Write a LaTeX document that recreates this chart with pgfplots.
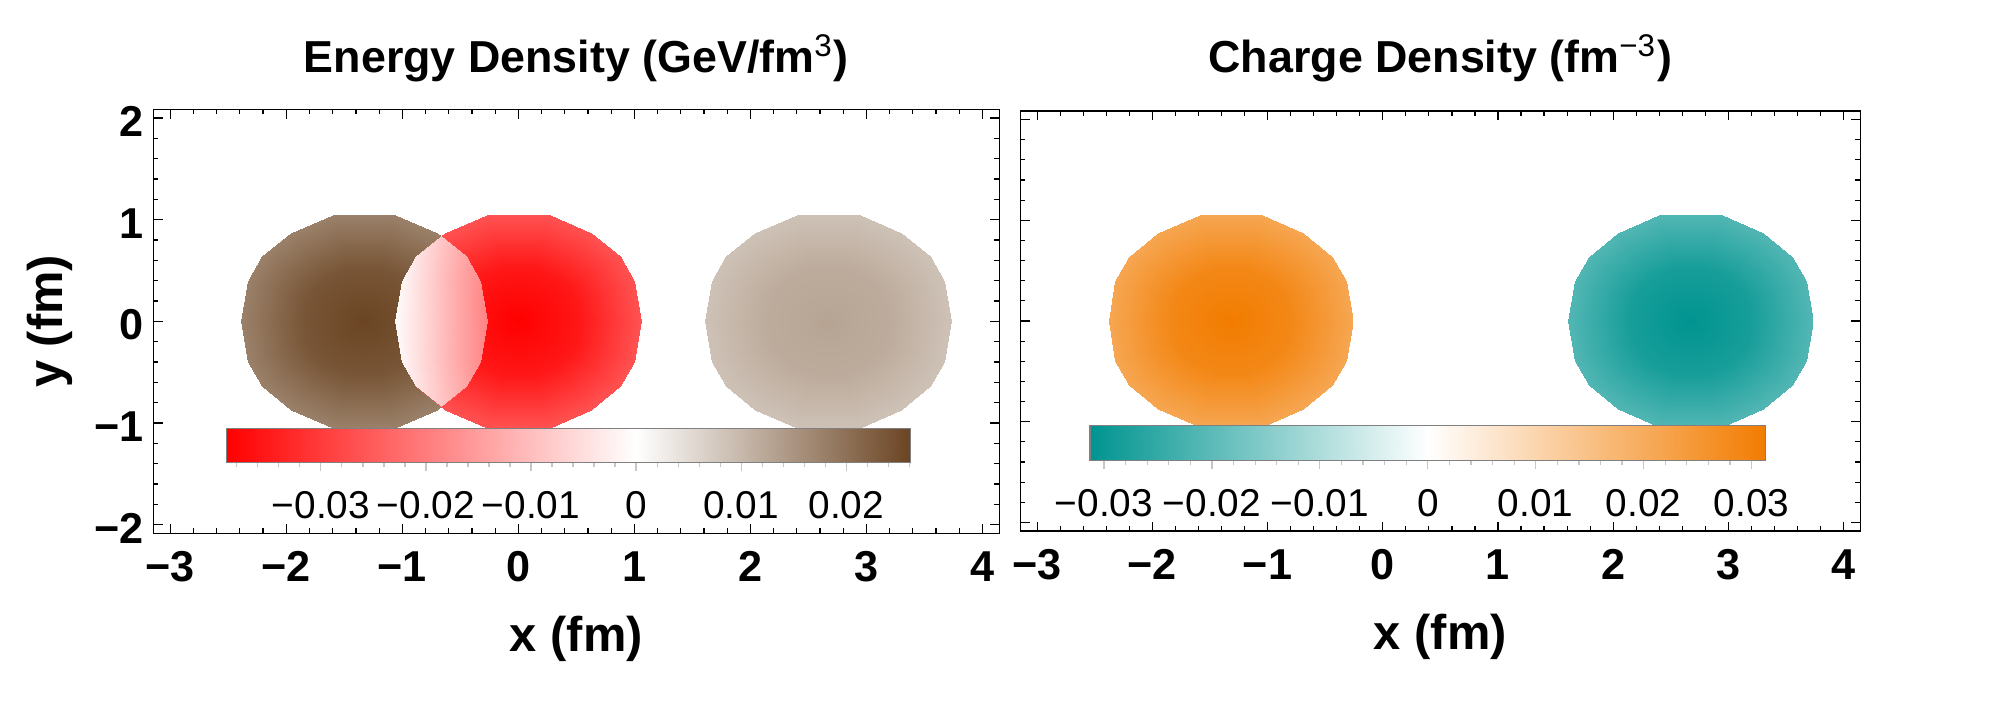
\documentclass[border=0pt]{standalone}
\usepackage{fontspec}
\setmainfont{Liberation Sans}
\usepackage{pgfplots}
\pgfplotsset{compat=1.18}

\newcommand\tickfont{\fontsize{10.8}{12}\selectfont\bfseries}
\newcommand\labfont{\fontsize{12.2}{14}\selectfont\bfseries}
\newcommand\titfont{\fontsize{11.2}{13}\selectfont\bfseries}
\newcommand\cbfont{\fontsize{9.7}{11}\selectfont}

\pgfplotsset{
  colormap={energy}{rgb255(0pt)=(255,0,0) rgb255(39pt)=(255,255,255) rgb255(65.1pt)=(107,69,35)},
  colormap={charge}{rgb255(0pt)=(0,148,144) rgb255(1pt)=(255,255,255) rgb255(2pt)=(242,124,0)},
  densframe/.style={
    scale only axis,
    axis line style={line width=0.3pt},
    every tick/.style={line width=0.3pt, black},
    major tick length=2.33pt, minor tick length=1.25pt,
    xmin=-3.146, xmax=4.145, ymin=-2.085, ymax=2.085,
    xtick={-3,...,4}, ytick={-2,...,2},
    minor x tick num=4, minor y tick num=4,
    xticklabels={−3,−2,−1,0,1,2,3,4},
    ticklabel style={font=\tickfont, inner sep=0pt},
    xticklabel style={anchor=north, yshift=-4.4pt},
    yticklabel style={anchor=east, xshift=-2.3pt, yshift=-0.9pt},
    xlabel={x (fm)},
    xlabel style={font=\labfont, at={(axis description cs:0.5,0)}, anchor=base, yshift=-29.6pt, inner sep=0pt},
    title style={font=\titfont, at={(axis description cs:0.5,1)}, anchor=base, inner sep=0pt},
  },
  % colour scale drawn as its own small axis
  cbar/.style={
    scale only axis, anchor=south west, axis on top,
    ymin=0, ymax=1, ytick=\empty,
    axis line style={draw=gray, line width=0.3pt},
    tick align=outside, xtick pos=left,
    major tick length=2.25pt, minor tick length=1.25pt,
    every tick/.style={line width=0.3pt, gray!45},
    scaled x ticks=false,
    xticklabel style={font=\cbfont, anchor=north, inner sep=0pt, yshift=-4.9pt, text=black},
  },
  disc/.style={surf, shader=interp, mesh/rows=3, mesh/cols=19, point meta=\thisrow{c}},
}

\begin{document}
\begin{tikzpicture}
\path[use as bounding box] (0,0) rectangle (500pt,179pt);

% ---------- energy density ----------
\begin{axis}[densframe,
  at={(38.33pt,45.68pt)}, anchor=south west,
  width=211.5pt, height=106pt,
  colormap name=energy,
  point meta min=-0.0390, point meta max=0.0261,
  yticklabels={−2,−1,0,1,2},
  ylabel={y (fm)},
  ylabel style={font=\labfont, at={([xshift=-22.6pt]axis description cs:0,0.5)}, anchor=base, inner sep=0pt},
  title={Energy Density (GeV/fm\textsuperscript{\mdseries 3})},
  title style={yshift=3.15pt},
]
% positive blob at x = -1.33
\addplot[disc] table[row sep=\\] {
x y c\\
-1.33 0 0.0261\\ -1.33 0 0.0261\\ -1.33 0 0.0261\\ -1.33 0 0.0261\\ -1.33 0 0.0261\\
-1.33 0 0.0261\\ -1.33 0 0.0261\\ -1.33 0 0.0261\\ -1.33 0 0.0261\\ -1.33 0 0.0261\\
-1.33 0 0.0261\\ -1.33 0 0.0261\\ -1.33 0 0.0261\\ -1.33 0 0.0261\\ -1.33 0 0.0261\\
-1.33 0 0.0261\\ -1.33 0 0.0261\\ -1.33 0 0.0261\\ -1.33 0 0.0261\\
-0.80 0 0.0238\\ -0.83 0.20 0.0238\\ -0.89 0.32 0.0238\\ -1.015 0.435 0.0238\\ -1.195 0.525 0.0238\\
-1.465 0.525 0.0238\\ -1.645 0.435 0.0238\\ -1.77 0.32 0.0238\\ -1.83 0.20 0.0238\\ -1.86 0 0.0238\\
-1.83 -0.20 0.0238\\ -1.77 -0.32 0.0238\\ -1.645 -0.435 0.0238\\ -1.465 -0.525 0.0238\\ -1.195 -0.525 0.0238\\
-1.015 -0.435 0.0238\\ -0.89 -0.32 0.0238\\ -0.83 -0.20 0.0238\\ -0.80 0 0.0238\\
-0.27 0 0.0177\\ -0.33 0.40 0.0177\\ -0.45 0.64 0.0177\\ -0.70 0.87 0.0177\\ -1.06 1.05 0.0177\\
-1.60 1.05 0.0177\\ -1.96 0.87 0.0177\\ -2.21 0.64 0.0177\\ -2.33 0.40 0.0177\\ -2.39 0 0.0177\\
-2.33 -0.40 0.0177\\ -2.21 -0.64 0.0177\\ -1.96 -0.87 0.0177\\ -1.60 -1.05 0.0177\\ -1.06 -1.05 0.0177\\
-0.70 -0.87 0.0177\\ -0.45 -0.64 0.0177\\ -0.33 -0.40 0.0177\\ -0.27 0 0.0177\\
};
% negative blob at x = 0
\addplot[disc] table[row sep=\\] {
x y c\\
0 0 -0.0390\\ 0 0 -0.0390\\ 0 0 -0.0390\\ 0 0 -0.0390\\ 0 0 -0.0390\\
0 0 -0.0390\\ 0 0 -0.0390\\ 0 0 -0.0390\\ 0 0 -0.0390\\ 0 0 -0.0390\\
0 0 -0.0390\\ 0 0 -0.0390\\ 0 0 -0.0390\\ 0 0 -0.0390\\ 0 0 -0.0390\\
0 0 -0.0390\\ 0 0 -0.0390\\ 0 0 -0.0390\\ 0 0 -0.0390\\
0.53 0 -0.0355\\ 0.50 0.20 -0.0355\\ 0.44 0.32 -0.0355\\ 0.315 0.435 -0.0355\\ 0.135 0.525 -0.0355\\
-0.135 0.525 -0.0355\\ -0.315 0.435 -0.0355\\ -0.44 0.32 -0.0355\\ -0.50 0.20 -0.0355\\ -0.53 0 -0.0355\\
-0.50 -0.20 -0.0355\\ -0.44 -0.32 -0.0355\\ -0.315 -0.435 -0.0355\\ -0.135 -0.525 -0.0355\\ 0.135 -0.525 -0.0355\\
0.315 -0.435 -0.0355\\ 0.44 -0.32 -0.0355\\ 0.50 -0.20 -0.0355\\ 0.53 0 -0.0355\\
1.06 0 -0.0265\\ 1.00 0.40 -0.0265\\ 0.88 0.64 -0.0265\\ 0.63 0.87 -0.0265\\ 0.27 1.05 -0.0265\\
-0.27 1.05 -0.0265\\ -0.63 0.87 -0.0265\\ -0.88 0.64 -0.0265\\ -1.00 0.40 -0.0265\\ -1.06 0 -0.0265\\
-1.00 -0.40 -0.0265\\ -0.88 -0.64 -0.0265\\ -0.63 -0.87 -0.0265\\ -0.27 -1.05 -0.0265\\ 0.27 -1.05 -0.0265\\
0.63 -0.87 -0.0265\\ 0.88 -0.64 -0.0265\\ 1.00 -0.40 -0.0265\\ 1.06 0 -0.0265\\
};
% overlap of the two blobs
\addplot[surf, shader=interp, mesh/rows=7, mesh/cols=4, point meta=\thisrow{c}] table[row sep=\\] {
x y c\\
-0.665 -0.838 -0.0086\\ -0.665 -0.838 -0.0086\\ -0.665 -0.838 -0.0086\\ -0.665 -0.838 -0.0086\\
-0.88 -0.64 -0.0040\\ -0.737 -0.64 -0.0075\\ -0.593 -0.64 -0.0110\\ -0.45 -0.64 -0.0140\\
-1.00 -0.40 -0.0015\\ -0.777 -0.40 -0.0070\\ -0.553 -0.40 -0.0125\\ -0.33 -0.40 -0.0175\\
-1.06 0 -0.0005\\ -0.797 0 -0.0065\\ -0.533 0 -0.0130\\ -0.27 0 -0.0190\\
-1.00 0.40 -0.0015\\ -0.777 0.40 -0.0070\\ -0.553 0.40 -0.0125\\ -0.33 0.40 -0.0175\\
-0.88 0.64 -0.0040\\ -0.737 0.64 -0.0075\\ -0.593 0.64 -0.0110\\ -0.45 0.64 -0.0140\\
-0.665 0.838 -0.0086\\ -0.665 0.838 -0.0086\\ -0.665 0.838 -0.0086\\ -0.665 0.838 -0.0086\\
};
% weak positive blob at x = 2.67
\addplot[disc] table[row sep=\\] {
x y c\\
2.67 0 0.0128\\ 2.67 0 0.0128\\ 2.67 0 0.0128\\ 2.67 0 0.0128\\ 2.67 0 0.0128\\
2.67 0 0.0128\\ 2.67 0 0.0128\\ 2.67 0 0.0128\\ 2.67 0 0.0128\\ 2.67 0 0.0128\\
2.67 0 0.0128\\ 2.67 0 0.0128\\ 2.67 0 0.0128\\ 2.67 0 0.0128\\ 2.67 0 0.0128\\
2.67 0 0.0128\\ 2.67 0 0.0128\\ 2.67 0 0.0128\\ 2.67 0 0.0128\\
3.20 0 0.0117\\ 3.17 0.20 0.0117\\ 3.11 0.32 0.0117\\ 2.985 0.435 0.0117\\ 2.805 0.525 0.0117\\
2.535 0.525 0.0117\\ 2.355 0.435 0.0117\\ 2.23 0.32 0.0117\\ 2.17 0.20 0.0117\\ 2.14 0 0.0117\\
2.17 -0.20 0.0117\\ 2.23 -0.32 0.0117\\ 2.355 -0.435 0.0117\\ 2.535 -0.525 0.0117\\ 2.805 -0.525 0.0117\\
2.985 -0.435 0.0117\\ 3.11 -0.32 0.0117\\ 3.17 -0.20 0.0117\\ 3.20 0 0.0117\\
3.73 0 0.0087\\ 3.67 0.40 0.0087\\ 3.55 0.64 0.0087\\ 3.30 0.87 0.0087\\ 2.94 1.05 0.0087\\
2.40 1.05 0.0087\\ 2.04 0.87 0.0087\\ 1.79 0.64 0.0087\\ 1.67 0.40 0.0087\\ 1.61 0 0.0087\\
1.67 -0.40 0.0087\\ 1.79 -0.64 0.0087\\ 2.04 -0.87 0.0087\\ 2.40 -1.05 0.0087\\ 2.94 -1.05 0.0087\\
3.30 -0.87 0.0087\\ 3.55 -0.64 0.0087\\ 3.67 -0.40 0.0087\\ 3.73 0 0.0087\\
};
\end{axis}

% energy colour scale
\begin{axis}[cbar,
  at={(56.58pt,63.43pt)}, width=171pt, height=8.5pt,
  xmin=-0.0390, xmax=0.0261,
  colormap name=energy, point meta min=-0.0390, point meta max=0.0261,
  xtick={-0.03,-0.02,-0.01,0,0.01,0.02},
  xticklabels={−0.03,−0.02,−0.01,0,0.01,0.02},
  minor xtick={-0.038,-0.036,-0.034,-0.032,-0.028,-0.026,-0.024,-0.022,-0.018,-0.016,-0.014,-0.012,-0.008,-0.006,-0.004,-0.002,0.002,0.004,0.006,0.008,0.012,0.014,0.016,0.018,0.022,0.024,0.026},
]
\addplot[surf, shader=interp, mesh/rows=2, mesh/cols=3, point meta=x] coordinates {
(-0.0390,0) (0,0) (0.0261,0)
(-0.0390,1) (0,1) (0.0261,1)
};
\end{axis}

% ---------- charge density ----------
\begin{axis}[densframe,
  at={(255.08pt,46.25pt)}, anchor=south west,
  width=210pt, height=105pt,
  colormap name=charge,
  point meta min=-0.0313, point meta max=0.0313,
  yticklabels={},
  title={Charge Density (fm\textsuperscript{\mdseries −3})},
  title style={yshift=3.6pt},
]
% positive blob at x = -1.32
\addplot[disc] table[row sep=\\] {
x y c\\
-1.32 0 0.0313\\ -1.32 0 0.0313\\ -1.32 0 0.0313\\ -1.32 0 0.0313\\ -1.32 0 0.0313\\
-1.32 0 0.0313\\ -1.32 0 0.0313\\ -1.32 0 0.0313\\ -1.32 0 0.0313\\ -1.32 0 0.0313\\
-1.32 0 0.0313\\ -1.32 0 0.0313\\ -1.32 0 0.0313\\ -1.32 0 0.0313\\ -1.32 0 0.0313\\
-1.32 0 0.0313\\ -1.32 0 0.0313\\ -1.32 0 0.0313\\ -1.32 0 0.0313\\
-0.79 0 0.0285\\ -0.82 0.20 0.0285\\ -0.88 0.32 0.0285\\ -1.005 0.435 0.0285\\ -1.185 0.525 0.0285\\
-1.455 0.525 0.0285\\ -1.635 0.435 0.0285\\ -1.76 0.32 0.0285\\ -1.82 0.20 0.0285\\ -1.85 0 0.0285\\
-1.82 -0.20 0.0285\\ -1.76 -0.32 0.0285\\ -1.635 -0.435 0.0285\\ -1.455 -0.525 0.0285\\ -1.185 -0.525 0.0285\\
-1.005 -0.435 0.0285\\ -0.88 -0.32 0.0285\\ -0.82 -0.20 0.0285\\ -0.79 0 0.0285\\
-0.26 0 0.0213\\ -0.32 0.40 0.0213\\ -0.44 0.64 0.0213\\ -0.69 0.87 0.0213\\ -1.05 1.05 0.0213\\
-1.59 1.05 0.0213\\ -1.95 0.87 0.0213\\ -2.20 0.64 0.0213\\ -2.32 0.40 0.0213\\ -2.38 0 0.0213\\
-2.32 -0.40 0.0213\\ -2.20 -0.64 0.0213\\ -1.95 -0.87 0.0213\\ -1.59 -1.05 0.0213\\ -1.05 -1.05 0.0213\\
-0.69 -0.87 0.0213\\ -0.44 -0.64 0.0213\\ -0.32 -0.40 0.0213\\ -0.26 0 0.0213\\
};
% negative blob at x = 2.67
\addplot[disc] table[row sep=\\] {
x y c\\
2.67 0 -0.0313\\ 2.67 0 -0.0313\\ 2.67 0 -0.0313\\ 2.67 0 -0.0313\\ 2.67 0 -0.0313\\
2.67 0 -0.0313\\ 2.67 0 -0.0313\\ 2.67 0 -0.0313\\ 2.67 0 -0.0313\\ 2.67 0 -0.0313\\
2.67 0 -0.0313\\ 2.67 0 -0.0313\\ 2.67 0 -0.0313\\ 2.67 0 -0.0313\\ 2.67 0 -0.0313\\
2.67 0 -0.0313\\ 2.67 0 -0.0313\\ 2.67 0 -0.0313\\ 2.67 0 -0.0313\\
3.20 0 -0.0285\\ 3.17 0.20 -0.0285\\ 3.11 0.32 -0.0285\\ 2.985 0.435 -0.0285\\ 2.805 0.525 -0.0285\\
2.535 0.525 -0.0285\\ 2.355 0.435 -0.0285\\ 2.23 0.32 -0.0285\\ 2.17 0.20 -0.0285\\ 2.14 0 -0.0285\\
2.17 -0.20 -0.0285\\ 2.23 -0.32 -0.0285\\ 2.355 -0.435 -0.0285\\ 2.535 -0.525 -0.0285\\ 2.805 -0.525 -0.0285\\
2.985 -0.435 -0.0285\\ 3.11 -0.32 -0.0285\\ 3.17 -0.20 -0.0285\\ 3.20 0 -0.0285\\
3.73 0 -0.0213\\ 3.67 0.40 -0.0213\\ 3.55 0.64 -0.0213\\ 3.30 0.87 -0.0213\\ 2.94 1.05 -0.0213\\
2.40 1.05 -0.0213\\ 2.04 0.87 -0.0213\\ 1.79 0.64 -0.0213\\ 1.67 0.40 -0.0213\\ 1.61 0 -0.0213\\
1.67 -0.40 -0.0213\\ 1.79 -0.64 -0.0213\\ 2.04 -0.87 -0.0213\\ 2.40 -1.05 -0.0213\\ 2.94 -1.05 -0.0213\\
3.30 -0.87 -0.0213\\ 3.55 -0.64 -0.0213\\ 3.67 -0.40 -0.0213\\ 3.73 0 -0.0213\\
};
\end{axis}

% charge colour scale
\begin{axis}[cbar,
  at={(272.5pt,63.93pt)}, width=168.9pt, height=8.6pt,
  xmin=-0.0313, xmax=0.0313,
  colormap name=charge, point meta min=-0.0313, point meta max=0.0313,
  xtick={-0.03,-0.02,-0.01,0,0.01,0.02,0.03},
  xticklabels={−0.03,−0.02,−0.01,0,0.01,0.02,0.03},
  minor xtick={-0.028,-0.026,-0.024,-0.022,-0.018,-0.016,-0.014,-0.012,-0.008,-0.006,-0.004,-0.002,0.002,0.004,0.006,0.008,0.012,0.014,0.016,0.018,0.022,0.024,0.026,0.028},
]
\addplot[surf, shader=interp, mesh/rows=2, mesh/cols=3, point meta=x] coordinates {
(-0.0313,0) (0,0) (0.0313,0)
(-0.0313,1) (0,1) (0.0313,1)
};
\end{axis}
\end{tikzpicture}
\end{document}
